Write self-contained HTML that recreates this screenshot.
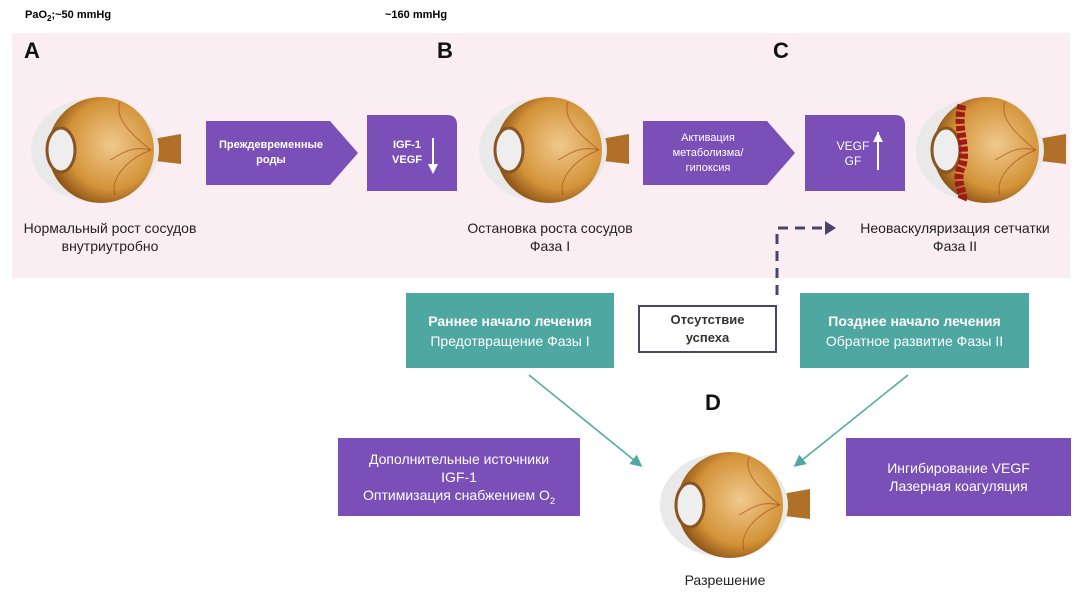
<!DOCTYPE html>
<html><head><meta charset="utf-8"><style>
body{margin:0;width:1080px;height:600px;background:#fff;position:relative;overflow:hidden;font-family:"Liberation Sans","Noto Sans CJK SC",sans-serif}
.a{position:absolute}
.band{left:12px;top:33px;width:1058px;height:245px;background:#fbeef2}
.L{font-weight:bold;font-size:22px;color:#111}
.cap{font-size:14px;color:#222;text-align:center;line-height:18px}
.pu{background:#7a4fb8;color:#fff;display:flex;align-items:center;justify-content:center;text-align:center}
.te{background:#4ea7a1;color:#fff;text-align:center;font-size:14px;line-height:20px;display:flex;flex-direction:column;justify-content:center}
</style></head><body>
<div class="a" style="left:25px;top:9px;font-size:11px;font-weight:bold">PaO<sub style="font-size:8px">2</sub>;~50 mmHg</div>
<div class="a" style="left:385px;top:9px;font-size:11px;font-weight:bold">~160 mmHg</div>
<div class="a band"></div>
<div class="a L" style="left:24px;top:38px">A</div>
<div class="a L" style="left:437px;top:38px">B</div>
<div class="a L" style="left:773px;top:38px">C</div>
<div class="a L" style="left:705px;top:390px">D</div>

<svg class="a" style="left:0;top:0" width="1080" height="600">
<defs>
<radialGradient id="g" cx="0.6" cy="0.45" r="0.6"><stop offset="0" stop-color="#f0c98e"/><stop offset="0.7" stop-color="#d39338"/><stop offset="1" stop-color="#8f5518"/></radialGradient>
<g id="eye">
<path d="M52,-10 L86,-16 L86,14 L52,10Z" fill="#b07028"/>
<ellipse cx="0" cy="0" rx="64" ry="52" fill="#e9e9e9"/>
<circle cx="6" cy="0" r="53" fill="url(#g)"/>
<ellipse cx="-34" cy="0" rx="14" ry="22" fill="#eee" stroke="#8a5520" stroke-width="3"/>
<path d="M56,0 C30,-20 20,-35 25,-48 M56,0 C30,10 15,30 20,45 M56,0 C35,-5 25,5 15,10" stroke="#a0401a" stroke-width="1" fill="none" opacity=".6"/>
</g>
<marker id="m" markerWidth="8" markerHeight="8" refX="6" refY="4" orient="auto"><path d="M0,0L8,4L0,8Z" fill="#4ea7a1"/></marker>
</defs>
<use href="#eye" x="95" y="150"/>
<use href="#eye" x="543" y="150"/>
<use href="#eye" x="980" y="150"/>
<path d="M962,105 C955,130 970,150 960,170 C956,185 965,195 962,200" stroke="#a01818" stroke-width="9" fill="none" stroke-dasharray="5 2"/>
<use href="#eye" x="724" y="505"/>
<polygon points="206,121 330,121 358,153 330,185 206,185" fill="#7a4fb8"/>
<path d="M367,115 H447 Q457,115 457,125 V191 H367Z" fill="#7a4fb8"/>
<polygon points="643,121 767,121 795,153 767,185 643,185" fill="#7a4fb8"/>
<path d="M805,115 H895 Q905,115 905,125 V191 H805Z" fill="#7a4fb8"/>
<path d="M433,138 V170" stroke="#fff" stroke-width="2"/><path d="M428,164 L433,174 L438,164Z" fill="#fff"/>
<path d="M878,132 V170" stroke="#fff" stroke-width="2"/><path d="M873,142 L878,132 L883,142Z" fill="#fff"/>
<path d="M777,295 V228 H825" stroke="#4a4568" stroke-width="3" fill="none" stroke-dasharray="10 7"/>
<path d="M825,221 L836,228 L825,235Z" fill="#4a4568"/>
<line x1="529" y1="375" x2="640" y2="465" stroke="#4ea7a1" stroke-width="1.5" marker-end="url(#m)"/>
<line x1="908" y1="375" x2="796" y2="465" stroke="#4ea7a1" stroke-width="1.5" marker-end="url(#m)"/>
</svg>

<div class="a" style="left:206px;top:121px;width:130px;height:64px;color:#fff;font-size:11px;font-weight:bold;text-align:center;display:flex;align-items:center;justify-content:center;line-height:15px">Преждевременные<br>роды</div>
<div class="a" style="left:382px;top:138px;width:50px;color:#fff;font-size:11px;font-weight:bold;text-align:center;line-height:15px">IGF-1<br>VEGF</div>
<div class="a" style="left:643px;top:121px;width:130px;height:64px;color:#fff;font-size:11px;text-align:center;display:flex;align-items:center;justify-content:center;line-height:15px">Активация<br>метаболизма/<br>гипоксия</div>
<div class="a" style="left:828px;top:139px;width:50px;color:#fff;font-size:12px;text-align:center;line-height:15px">VEGF<br>GF</div>

<div class="a cap" style="left:10px;top:219px;width:200px">Нормальный рост сосудов<br>внутриутробно</div>
<div class="a cap" style="left:450px;top:219px;width:200px">Остановка роста сосудов<br>Фаза I</div>
<div class="a cap" style="left:845px;top:219px;width:220px">Неоваскуляризация сетчатки<br>Фаза II</div>

<div class="a te" style="left:406px;top:293px;width:208px;height:75px"><b>Раннее начало лечения</b>Предотвращение Фазы I</div>
<div class="a te" style="left:800px;top:293px;width:229px;height:75px"><b>Позднее начало лечения</b>Обратное развитие Фазы II</div>
<div class="a" style="left:638px;top:305px;width:135px;height:44px;border:2px solid #4a4568;background:#fff;font-size:13px;font-weight:bold;color:#333;text-align:center;line-height:18px;display:flex;align-items:center;justify-content:center">Отсутствие<br>успеха</div>
<div class="a pu" style="left:338px;top:438px;width:242px;height:78px;font-size:14px;line-height:18px"><div>Дополнительные источники<br>IGF-1<br>Оптимизация снабжением O<sub style="font-size:9px;line-height:0">2</sub></div></div>
<div class="a pu" style="left:846px;top:438px;width:225px;height:78px;font-size:14px;line-height:18px"><div>Ингибирование VEGF<br>Лазерная коагуляция</div></div>
<div class="a cap" style="left:650px;top:571px;width:150px">Разрешение</div>
</body></html>
